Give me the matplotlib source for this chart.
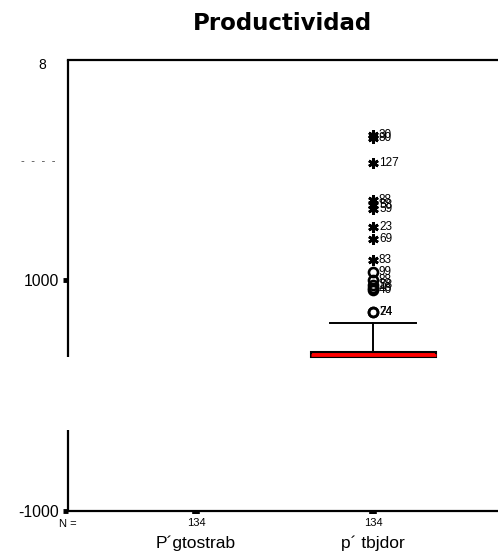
import matplotlib
matplotlib.use("Agg")
import matplotlib.pyplot as plt
import matplotlib.transforms as mtransforms

# data
categories = ["P\u00b4gtostrab", "p\u00b4 tbjdor"]
n_counts = [134, 134]

# box for p´ tbjdor (the first variable has no visible box)
box_q1 = 333
box_med = 351
box_q3 = 377
whisker_hi = 628

# outliers (circles) and extremes (asterisks) with case labels
out_vals = [723, 723, 913, 935, 957, 1000, 1069]
out_labels = ["24", "74", "40", "48", "58", "88", "99"]
ext_vals = [1173, 1355, 1459, 1615, 1649, 1693, 2013, 2229, 2255]
ext_labels = ["83", "69", "23", "59", "58", "88", "127", "80", "30"]

# axis break on the left spine
break_lo = -299
break_hi = 333
y_min, y_max = -1000, 2905

lbl_font = "Liberation Sans"

fig = plt.figure(figsize=(4.98, 5.52), dpi=100)
ax = fig.add_axes([68 / 498, 41 / 552, 1 - 68 / 498, 451 / 552])

stats = [{"med": box_med, "q1": box_q1, "q3": box_q3,
          "whislo": box_q1, "whishi": whisker_hi, "fliers": []}]
ax.bxp(stats, positions=[2], widths=0.706, capwidths=0.49, patch_artist=True,
       showfliers=False,
       boxprops=dict(facecolor="red", edgecolor="black", linewidth=1.5),
       medianprops=dict(color="red", linewidth=2),
       whiskerprops=dict(color="black", linewidth=1.4),
       capprops=dict(color="black", linewidth=1.4))

pos = 2
ax.plot([pos] * len(out_vals), out_vals, linestyle="none", marker="o",
        markersize=6.5, markerfacecolor="none", markeredgecolor="black",
        markeredgewidth=1.9, clip_on=False)
ax.plot([pos] * len(ext_vals), ext_vals, linestyle="none", marker=(6, 2, 0),
        markersize=7.5, markeredgecolor="black", markeredgewidth=1.9, clip_on=False)

for v, lab in zip(out_vals + ext_vals, out_labels + ext_labels):
    ax.annotate(lab, (pos, v), xytext=(4.3, 0), textcoords="offset points",
                ha="left", va="center", fontsize=8.5, family=lbl_font)

ax.set_xlim(0.277, 2.706)
ax.set_ylim(y_min, y_max)

for s in ["right", "left"]:
    ax.spines[s].set_visible(False)
for s in ["top", "bottom"]:
    ax.spines[s].set_linewidth(1.6)

# broken left spine
trans = mtransforms.blended_transform_factory(ax.transAxes, ax.transData)
ax.plot([0, 0], [break_hi, y_max], color="black", linewidth=1.6, transform=trans,
        clip_on=False, solid_capstyle="butt")
ax.plot([0, 0], [y_min, break_lo], color="black", linewidth=1.6, transform=trans,
        clip_on=False, solid_capstyle="butt")

ax.set_yticks([-1000, 1000])
ax.set_yticklabels(["-1000", "1000"], fontsize=11.3, family=lbl_font)
ax.tick_params(axis="y", direction="out", length=3.5, width=3.5, pad=3)
ax.text(-0.052, 2861, "8", transform=trans, ha="right", va="center",
        fontsize=10, family=lbl_font)
ax.text(-0.03, 2022, "-  -  -  -", transform=trans, ha="right", va="center",
        fontsize=8.3, family=lbl_font, color="#555555")

ax.set_xticks([1, 2])
ax.set_xticklabels([str(n) for n in n_counts], fontsize=8, family=lbl_font)
ax.tick_params(axis="x", direction="out", length=2.2, width=5.5, pad=2.5)

xtrans = mtransforms.blended_transform_factory(ax.transData, ax.transAxes)
ax.text(0.0, -0.017, "N =", transform=ax.transAxes, ha="center", va="top",
        fontsize=8, family=lbl_font)
for i, c in enumerate(categories):
    ax.text(i + 1, -0.071, c, transform=xtrans, ha="center", va="center",
            fontsize=12.5, family=lbl_font)

fig.text(282 / 498, 1 - 23 / 552, "Productividad", ha="center", va="center",
         fontsize=16.5, fontweight="bold", family="DejaVu Sans")

fig.savefig("out.png", dpi=100)
